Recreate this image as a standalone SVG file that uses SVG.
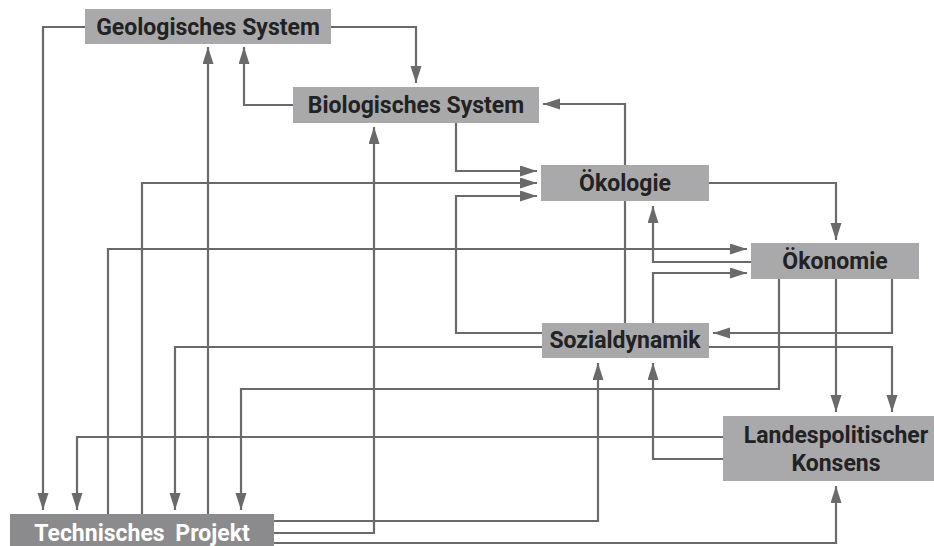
<svg xmlns="http://www.w3.org/2000/svg" width="934" height="546" viewBox="0 0 934 546">
<defs>
<marker id="ah" markerUnits="userSpaceOnUse" markerWidth="18" markerHeight="12" refX="17" refY="5.5" orient="auto">
<path d="M0,0 L17,5.5 L0,11 z" fill="#6a6a6d"/>
</marker>
<style>
.c{fill:none;stroke:#6a6a6d;stroke-width:2.2;marker-end:url(#ah)}
.b{fill:#a9a9ab}
.t{font-family:Roboto,"Liberation Sans",sans-serif;font-weight:bold;font-size:23px;fill:#222;text-anchor:middle}
.w{fill:#fff}
</style>
</defs>
<rect width="934" height="546" fill="#fff"/>
<g id="connectors">
<path class="c" d="M85,27 H43 V510"/>
<path class="c" d="M331,27 H416 V83"/>
<path class="c" d="M293,105 H244 V47"/>
<path class="c" d="M208,514 V47"/>
<path class="c" d="M274,533 H374 V127"/>
<path class="c" d="M456,123 V171 H537"/>
<path class="c" d="M142,514 V183 H537"/>
<path class="c" d="M542,333 H456 V196 H537"/>
<path class="c" d="M625,323 V104 H543"/>
<path class="c" d="M709,183 H836 V240"/>
<path class="c" d="M108,514 V249 H747"/>
<path class="c" d="M751,262 H653 V206"/>
<path class="c" d="M653,323 V273 H747"/>
<path class="c" d="M892,279 V333 H713"/>
<path class="c" d="M836,279 V412"/>
<path class="c" d="M779,279 V389 H241 V510"/>
<path class="c" d="M709,347 H892 V412"/>
<path class="c" d="M542,347 H175 V510"/>
<path class="c" d="M274,521 H598 V363"/>
<path class="c" d="M723,459 H653 V363"/>
<path class="c" d="M723,437 H77 V510"/>
<path class="c" d="M274,543 H836 V486"/>
</g>
<g id="geo"><rect class="b" x="85" y="9" width="246" height="35"/><text class="t" x="208" y="35">Geologisches System</text></g>
<g id="bio"><rect class="b" x="293" y="87" width="246" height="36"/><text class="t" x="416" y="113">Biologisches System</text></g>
<g id="oekologie"><rect class="b" x="541" y="165" width="168" height="36"/><text class="t" x="625" y="191">Ökologie</text></g>
<g id="oekonomie"><rect class="b" x="751" y="243" width="168" height="36"/><text class="t" x="835" y="269">Ökonomie</text></g>
<g id="sozial"><rect class="b" x="542" y="323" width="167" height="35"/><text class="t" x="625" y="348">Sozialdynamik</text></g>
<g id="landes"><rect class="b" x="723" y="416" width="211" height="65"/><text class="t" x="836" y="443">Landespolitischer</text><text class="t" x="836" y="471">Konsens</text></g>
<g id="technik"><rect x="10" y="514" width="264" height="32" fill="#8b8b8e"/><text class="t w" x="142" y="541" word-spacing="5">Technisches Projekt</text></g>
</svg>
